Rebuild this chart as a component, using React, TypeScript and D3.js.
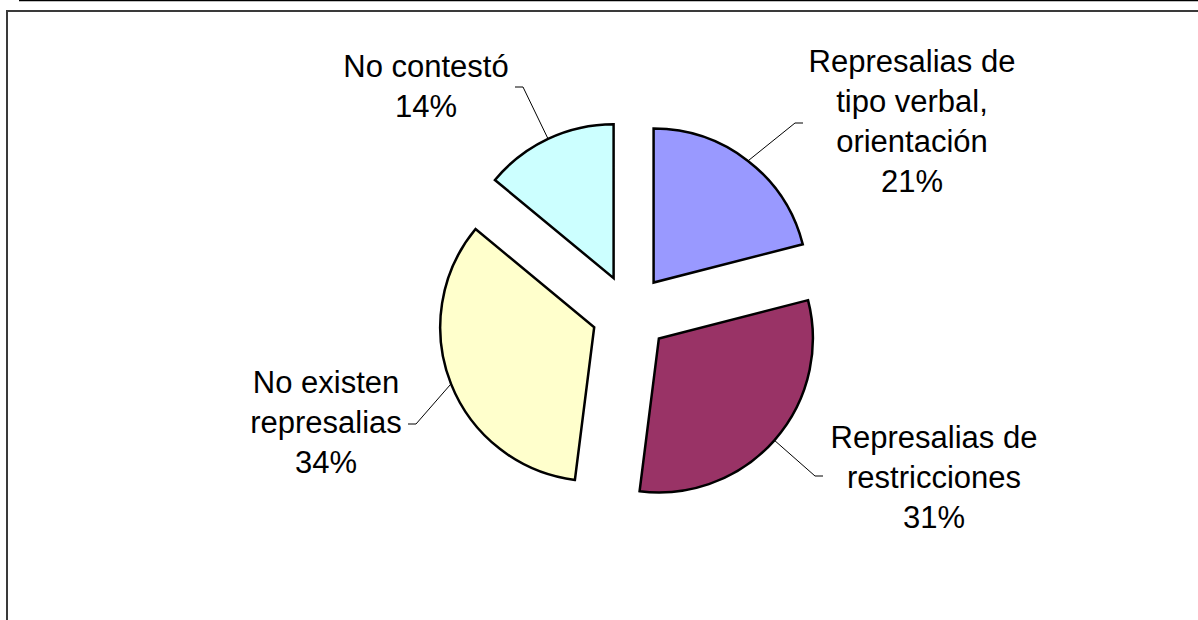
import React from 'react';
import * as d3 from 'd3';

// slice data, clockwise from 12 o'clock
const categories = [
  'Represalias de tipo verbal, orientación',
  'Represalias de restricciones',
  'No existen represalias',
  'No contestó',
];
const values = [21, 31, 34, 14];
const labelLines = [
  ['Represalias de', 'tipo verbal,', 'orientación', '21%'],
  ['Represalias de', 'restricciones', '31%'],
  ['No existen', 'represalias', '34%'],
  ['No contestó', '14%'],
];
const colors = ['#9999FF', '#993366', '#FFFFCC', '#CCFFFF'];

// label layout: centre x, first baseline y, leader tail end (relative), tail side
const labelPos = [
  { x: 912, y: 72, tx: -109, ty: 51, side: 1 },
  { x: 934, y: 448, tx: -111, ty: 28, side: 1 },
  { x: 326, y: 393, tx: 82, ty: 31, side: -1 },
  { x: 426, y: 77, tx: 89, ty: 10, side: -1 },
];

const W = 1198;
const H = 620;
const cx = 630;
const cy = 313;
const radius = 154;
const explode = 38.5;
const lineH = 40;

const App: React.FC = () => {
  const pie = d3.pie<number>().sort(null).value((d) => d).startAngle(0).endAngle(2 * Math.PI);
  const arcs = pie(values);
  const arc = d3.arc<d3.PieArcDatum<number>>().innerRadius(0).outerRadius(radius);

  return (
    <svg
      width={W}
      height={H}
      style={{ position: 'absolute', left: 0, top: 0, background: '#fff' }}
      fontFamily="'Liberation Sans', Arial, sans-serif"
    >
      {/* page top rule and chart frame */}
      <line x1={19} y1={0.5} x2={W} y2={0.5} stroke="#000" strokeWidth={1.5} />
      <polyline points={`7,${H} 7,11 ${W},11`} fill="none" stroke="#3a3a3a" strokeWidth={2} />

      <g transform={`translate(${cx},${cy})`}>
        {arcs.map((a, i) => {
          const mid = (a.startAngle + a.endAngle) / 2;
          const ox = Math.sin(mid) * explode;
          const oy = -Math.cos(mid) * explode;
          return (
            <path
              key={categories[i]}
              d={arc(a) || ''}
              transform={`translate(${ox},${oy})`}
              fill={colors[i]}
              stroke="#000"
              strokeWidth={2.5}
              strokeLinejoin="miter"
            />
          );
        })}
      </g>

      {/* leader lines: arc midpoint -> elbow -> short horizontal tail */}
      {arcs.map((a, i) => {
        const mid = (a.startAngle + a.endAngle) / 2;
        const p0x = cx + Math.sin(mid) * (radius + explode);
        const p0y = cy - Math.cos(mid) * (radius + explode);
        const lp = labelPos[i];
        const endX = lp.x + lp.tx;
        const endY = lp.y + lp.ty;
        const elbowX = endX - lp.side * 8;
        return (
          <polyline
            key={'leader' + i}
            points={`${p0x},${p0y} ${elbowX},${endY} ${endX},${endY}`}
            fill="none"
            stroke="#000"
            strokeWidth={1}
          />
        );
      })}

      {labelLines.map((lines, i) => (
        <text
          key={'label' + i}
          x={labelPos[i].x}
          y={labelPos[i].y}
          textAnchor="middle"
          fontSize={31}
          fill="#000"
        >
          {lines.map((t, j) => (
            <tspan key={j} x={labelPos[i].x} y={labelPos[i].y + j * lineH}>
              {t}
            </tspan>
          ))}
        </text>
      ))}
    </svg>
  );
};

export default App;
